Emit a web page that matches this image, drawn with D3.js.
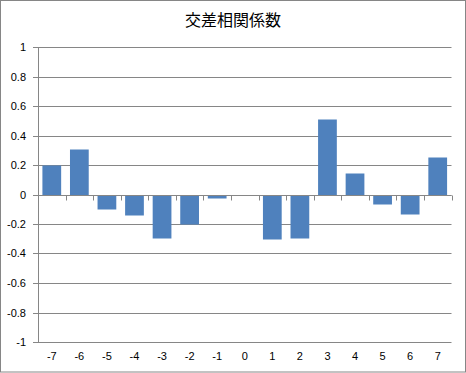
<!DOCTYPE html>
<html>
<head>
<meta charset="utf-8">
<script src="https://cdn.jsdelivr.net/npm/d3@7"></script>
<style>
  body { margin: 0; background: #fff; }
  text { font-family: "Liberation Sans", "DejaVu Sans", sans-serif; }
</style>
</head>
<body>
<script>
// data
const title = "交差相関係数";
const lags = [-7, -6, -5, -4, -3, -2, -1, 0, 1, 2, 3, 4, 5, 6, 7];
const corr = [0.2, 0.31, -0.1, -0.138, -0.294, -0.203, -0.023, 0, -0.3, -0.294, 0.51, 0.145, -0.064, -0.13, 0.253];
const yTicks = [1, 0.8, 0.6, 0.4, 0.2, 0, -0.2, -0.4, -0.6, -0.8, -1];

const w = 466, h = 373;
const pLeft = 38, pRight = 451.5, pTop = 47, pBottom = 342;

const svg = d3.select("body").append("svg")
  .attr("width", w).attr("height", h);

// outer border
svg.append("rect")
  .attr("x", 0.5).attr("y", 0.5)
  .attr("width", w - 1).attr("height", h - 1.5)
  .attr("fill", "#fff").attr("stroke", "#868686");

svg.append("text")
  .attr("x", 233).attr("y", 26)
  .attr("text-anchor", "middle")
  .style("font-family", "'Noto Sans CJK JP', sans-serif")
  .style("font-size", "16px")
  .text(title);

const x = d3.scaleBand().domain(lags).range([pLeft, pRight]).paddingInner(0.32).paddingOuter(0.16);
const y = d3.scaleLinear().domain([-1, 1]).rangeRound([pBottom, pTop]);

// gridlines + y labels
const yAxis = d3.axisLeft(y).tickValues(yTicks).tickSize(-(pRight - pLeft))
  .tickFormat(d => String(+d.toFixed(1)));
const gy = svg.append("g").attr("transform", `translate(${pLeft},0)`).call(yAxis);
gy.select(".domain").remove();
gy.selectAll(".tick line").attr("stroke", "#868686").attr("x1", -5);
gy.selectAll(".tick text").attr("fill", "#000").style("font-size", "11px").attr("x", -12);

// bars
svg.selectAll("rect.bar").data(corr).enter().append("rect")
  .attr("class", "bar")
  .attr("x", (d, i) => x(lags[i]))
  .attr("width", x.bandwidth())
  .attr("y", d => y(Math.max(0, d)) + 0.5)
  .attr("height", d => Math.abs(y(d) - y(0)))
  .attr("fill", "#4F81BD");

// y axis line
svg.append("line")
  .attr("x1", pLeft + 0.5).attr("x2", pLeft + 0.5).attr("y1", pTop + 0.5).attr("y2", pBottom + 0.5)
  .attr("stroke", "#868686");

// x axis at zero with ticks between categories
const gx = svg.append("g").attr("transform", `translate(0,${y(0) + 0.5})`);
gx.append("line").attr("x1", pLeft).attr("x2", pRight).attr("stroke", "#868686");
gx.selectAll("line.tk").data(d3.range(lags.length + 1)).enter().append("line")
  .attr("class", "tk")
  .attr("x1", i => Math.round(pLeft + i * x.step()) + 0.5)
  .attr("x2", i => Math.round(pLeft + i * x.step()) + 0.5)
  .attr("y1", 0).attr("y2", 5)
  .attr("stroke", "#868686");

// category labels at bottom
svg.selectAll("text.xl").data(lags).enter().append("text")
  .attr("class", "xl")
  .attr("x", d => x(d) + x.bandwidth() / 2)
  .attr("y", 360)
  .attr("text-anchor", "middle")
  .style("font-size", "11px")
  .text(d => d);
</script>
</body>
</html>
